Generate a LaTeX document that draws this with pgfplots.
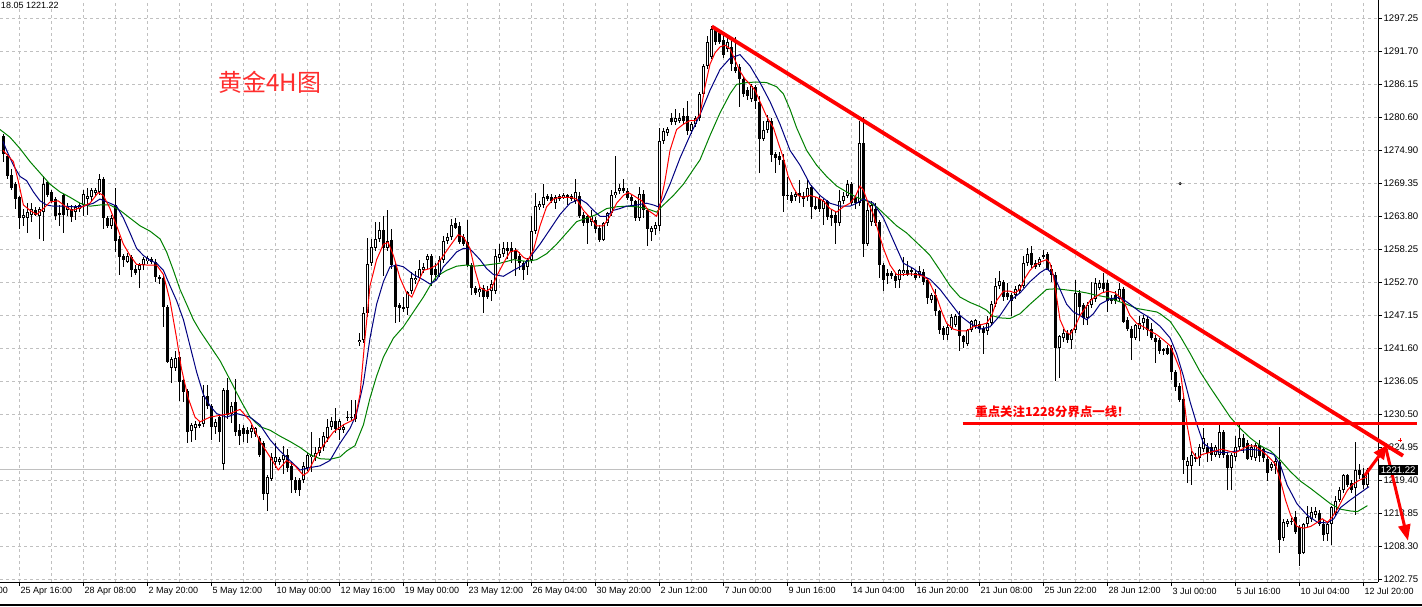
\documentclass[border=0pt]{standalone}
\usepackage{pgfplots}
\pgfplotsset{compat=1.18}
\usepackage{pgfplotstable}
\usepackage{fontspec}
\usetikzlibrary{arrows.meta}
\setmainfont{Liberation Sans}
\newfontfamily\cjk{Noto Sans CJK SC}
\definecolor{gridc}{RGB}{192,192,192}
\definecolor{ma1}{RGB}{255,0,0}
\definecolor{ma2}{RGB}{0,0,128}
\definecolor{ma3}{RGB}{0,128,0}
\definecolor{titlered}{RGB}{255,45,45}
\newcommand{\tfont}{\fontsize{4.5}{5}\selectfont}
\newcommand{\yfont}{\fontsize{4.8}{5.2}\selectfont}

\pgfplotstableread{
n o h l c
0 1277.5 1277.8 1273.1 1274.4
1 1274.0 1274.4 1270.2 1270.6
2 1270.9 1271.8 1268.3 1268.7
3 1269.3 1269.6 1265.2 1266.8
4 1267.1 1267.4 1261.7 1263.6
5 1263.6 1265.2 1262.3 1264.2
6 1263.7 1266.1 1261.1 1264.6
7 1264.2 1266.1 1263.0 1265.2
8 1264.9 1265.5 1263.9 1264.1
9 1264.0 1265.5 1260.1 1265.2
10 1264.6 1270.6 1259.8 1269.4
11 1269.6 1269.9 1267.1 1267.4
12 1268.0 1268.3 1266.1 1266.4
13 1266.8 1267.1 1263.3 1263.9
14 1264.2 1265.8 1262.3 1264.5
15 1267.4 1267.7 1261.1 1264.2
16 1264.9 1266.1 1263.9 1265.6
17 1265.2 1265.8 1263.0 1263.7
18 1264.6 1265.8 1263.3 1265.5
19 1265.2 1266.1 1264.6 1265.8
20 1265.8 1268.3 1263.9 1267.7
21 1266.8 1268.7 1264.1 1267.4
22 1267.1 1268.7 1266.5 1268.3
23 1267.9 1268.7 1267.4 1268.3
24 1268.0 1271.1 1267.5 1270.2
25 1270.2 1270.6 1261.7 1263.6
26 1263.6 1263.9 1262.0 1262.3
27 1262.3 1264.2 1261.8 1263.6
28 1265.8 1268.7 1257.9 1259.8
29 1260.1 1260.5 1254.1 1257.0
30 1257.3 1257.6 1255.4 1256.5
31 1256.3 1257.7 1256.0 1257.3
32 1257.0 1257.4 1253.6 1254.9
33 1255.1 1255.7 1254.1 1254.4
34 1254.9 1256.0 1251.8 1255.7
35 1255.7 1257.0 1254.8 1256.8
36 1256.3 1257.2 1255.9 1256.8
37 1256.7 1257.0 1255.9 1256.2
38 1256.2 1256.7 1252.9 1253.6
39 1253.6 1254.1 1252.5 1253.3
40 1253.5 1254.0 1245.3 1248.6
41 1248.7 1249.0 1239.2 1239.4
42 1238.3 1240.2 1235.8 1239.9
43 1238.3 1241.2 1237.8 1240.1
44 1240.2 1241.0 1232.9 1236.1
45 1236.3 1236.6 1232.6 1234.4
46 1234.5 1234.8 1225.7 1227.6
47 1227.7 1229.1 1226.0 1228.7
48 1228.2 1229.5 1226.3 1228.9
49 1228.7 1229.3 1228.2 1228.9
50 1228.9 1235.5 1228.5 1233.6
51 1233.7 1235.5 1231.4 1232.0
52 1232.0 1232.3 1226.3 1228.5
53 1228.5 1229.8 1227.2 1229.3
54 1230.1 1230.6 1226.0 1227.6
55 1222.2 1235.0 1221.2 1234.7
56 1234.7 1236.7 1229.8 1230.4
57 1230.7 1232.6 1229.1 1232.0
58 1232.6 1236.5 1227.0 1227.6
59 1228.0 1229.0 1225.4 1227.0
60 1228.2 1228.8 1226.0 1227.3
61 1227.9 1228.5 1225.7 1227.3
62 1227.6 1228.8 1226.6 1228.2
63 1227.2 1228.5 1226.8 1228.2
64 1226.6 1226.9 1223.4 1223.8
65 1225.7 1226.0 1216.2 1217.1
66 1217.1 1220.3 1214.3 1220.0
67 1219.7 1224.1 1219.3 1223.4
68 1222.5 1225.7 1221.5 1223.4
69 1222.5 1223.4 1222.0 1223.1
70 1222.8 1225.3 1220.6 1223.8
71 1223.8 1224.7 1220.9 1221.5
72 1221.9 1222.5 1217.4 1219.6
73 1219.6 1220.0 1217.4 1217.8
74 1219.5 1219.8 1216.9 1217.8
75 1219.6 1222.5 1219.0 1221.9
76 1221.6 1224.1 1221.0 1223.8
77 1223.4 1227.6 1220.9 1223.8
78 1223.4 1225.0 1222.8 1224.1
79 1224.1 1226.6 1223.5 1225.0
80 1225.0 1227.6 1224.4 1226.9
81 1226.6 1229.8 1226.0 1228.5
82 1228.5 1230.1 1227.9 1229.4
83 1229.4 1231.7 1227.5 1228.1
84 1228.0 1229.7 1226.3 1229.4
85 1227.9 1229.0 1227.5 1228.5
86 1230.2 1231.1 1229.5 1229.9
87 1230.2 1232.9 1229.6 1229.9
88 1229.8 1232.9 1229.2 1230.7
89 1242.7 1244.3 1242.1 1243.1
90 1243.1 1248.7 1242.6 1247.7
91 1247.7 1260.3 1247.0 1255.8
92 1256.0 1260.1 1255.5 1258.7
93 1258.5 1263.0 1258.0 1260.1
94 1260.1 1263.0 1259.5 1261.6
95 1261.6 1263.9 1253.8 1258.5
96 1258.5 1264.9 1258.0 1259.8
97 1259.9 1261.7 1255.1 1255.7
98 1255.7 1256.0 1245.9 1248.7
99 1248.9 1249.3 1246.2 1248.5
100 1248.4 1250.3 1247.8 1248.7
101 1248.5 1251.3 1247.3 1251.1
102 1251.3 1254.6 1250.8 1253.5
103 1253.2 1254.7 1252.5 1253.6
104 1253.5 1256.6 1253.0 1255.1
105 1254.9 1256.0 1254.3 1255.4
106 1256.6 1257.6 1255.0 1257.3
107 1257.2 1257.6 1252.2 1254.0
108 1255.1 1256.0 1253.2 1254.1
109 1254.1 1257.3 1253.6 1256.6
110 1256.6 1260.6 1256.0 1259.8
111 1259.8 1261.1 1259.2 1260.4
112 1260.4 1263.5 1259.9 1262.5
113 1262.7 1263.6 1261.7 1262.0
114 1262.3 1263.0 1259.2 1259.5
115 1260.4 1261.0 1258.9 1259.2
116 1259.5 1263.3 1255.4 1255.7
117 1255.7 1256.0 1250.6 1251.9
118 1251.9 1252.2 1250.6 1251.0
119 1251.1 1252.2 1250.3 1251.7
120 1251.9 1252.3 1247.7 1250.3
121 1251.3 1252.2 1250.0 1250.3
122 1251.3 1253.2 1249.7 1252.5
123 1251.3 1258.4 1250.9 1257.2
124 1256.9 1259.2 1256.3 1257.6
125 1257.6 1259.5 1257.0 1258.5
126 1258.5 1259.5 1256.7 1258.1
127 1258.5 1259.5 1256.0 1257.9
128 1258.2 1258.5 1253.8 1256.7
129 1257.3 1257.9 1254.8 1256.0
130 1256.0 1256.3 1253.2 1254.9
131 1255.3 1256.9 1254.0 1256.6
132 1256.6 1263.9 1256.0 1261.4
133 1261.4 1267.9 1261.0 1265.6
134 1265.5 1266.4 1265.0 1265.9
135 1265.8 1269.3 1265.3 1267.1
136 1267.3 1267.7 1266.4 1266.8
137 1267.1 1267.7 1266.2 1266.5
138 1266.1 1267.5 1265.2 1267.1
139 1266.8 1267.7 1266.4 1267.4
140 1267.1 1267.8 1266.8 1267.5
141 1267.5 1267.7 1265.8 1266.9
142 1266.8 1267.7 1266.4 1267.4
143 1266.4 1270.2 1266.0 1268.0
144 1267.4 1268.0 1263.6 1263.9
145 1264.2 1264.6 1262.3 1262.8
146 1263.9 1264.2 1259.2 1262.8
147 1262.9 1264.9 1262.3 1263.9
148 1263.3 1263.8 1261.1 1261.7
149 1262.0 1262.5 1259.5 1259.9
150 1259.9 1262.9 1259.7 1262.7
151 1262.7 1264.6 1262.3 1264.4
152 1264.4 1268.3 1264.0 1267.5
153 1267.4 1274.0 1266.9 1268.0
154 1268.2 1269.3 1267.7 1268.7
155 1268.7 1270.1 1267.9 1268.2
156 1268.2 1268.7 1266.6 1266.9
157 1267.1 1267.7 1265.8 1266.4
158 1266.4 1266.7 1263.1 1263.6
159 1263.7 1268.8 1263.2 1267.7
160 1267.7 1268.3 1263.6 1264.9
161 1264.9 1265.2 1258.9 1261.7
162 1261.2 1262.3 1259.8 1262.0
163 1261.8 1263.0 1260.8 1262.5
164 1262.3 1278.8 1261.4 1276.6
165 1276.6 1278.8 1276.0 1278.2
166 1278.0 1279.0 1277.5 1278.6
167 1280.4 1281.3 1279.2 1279.7
168 1279.7 1281.9 1279.2 1280.4
169 1280.0 1281.3 1279.6 1280.5
170 1280.7 1282.1 1279.5 1280.0
171 1280.7 1283.3 1277.5 1278.2
172 1278.2 1279.7 1277.8 1279.4
173 1279.4 1280.8 1279.0 1280.4
174 1280.4 1284.9 1280.0 1284.5
175 1284.5 1289.5 1284.0 1289.2
176 1289.2 1294.3 1288.7 1293.3
177 1290.8 1295.9 1290.3 1295.5
178 1295.2 1295.7 1292.8 1293.3
179 1294.7 1295.2 1292.9 1293.3
180 1293.6 1294.9 1290.6 1291.1
181 1292.1 1294.3 1291.5 1293.3
182 1292.4 1294.1 1288.3 1289.5
183 1289.1 1294.0 1288.0 1288.4
184 1289.0 1289.5 1282.3 1287.0
185 1287.0 1287.3 1284.0 1284.5
186 1285.1 1285.7 1283.5 1284.2
187 1283.6 1286.1 1283.2 1285.9
188 1285.7 1286.0 1282.0 1283.3
189 1283.2 1284.2 1271.2 1277.0
190 1277.0 1280.0 1276.5 1278.5
191 1278.5 1281.0 1278.0 1280.0
192 1280.0 1280.5 1273.0 1274.2
193 1274.4 1274.8 1271.2 1273.7
194 1274.0 1274.7 1272.5 1273.4
195 1273.4 1274.4 1264.6 1267.4
196 1267.5 1270.6 1266.6 1267.3
197 1267.5 1268.0 1266.1 1266.5
198 1267.2 1268.0 1266.5 1267.7
199 1267.9 1270.0 1266.1 1267.4
200 1267.4 1268.0 1265.5 1266.9
201 1267.1 1270.1 1266.5 1268.7
202 1268.8 1269.1 1263.5 1265.5
203 1265.6 1267.1 1264.9 1265.2
204 1266.8 1267.4 1264.6 1265.2
205 1265.2 1266.8 1262.5 1266.4
206 1266.4 1266.7 1263.3 1263.7
207 1264.2 1264.9 1262.3 1263.6
208 1264.2 1264.6 1259.2 1262.7
209 1262.7 1268.3 1262.2 1266.4
210 1266.4 1268.0 1266.0 1267.4
211 1267.4 1270.1 1267.0 1269.3
212 1269.4 1269.6 1265.8 1266.1
213 1266.9 1267.4 1265.2 1266.1
214 1266.1 1280.0 1265.6 1276.3
215 1276.3 1280.7 1257.0 1259.2
216 1259.2 1266.1 1258.9 1264.9
217 1263.0 1266.4 1262.3 1265.8
218 1265.2 1266.1 1262.3 1262.7
219 1262.9 1263.3 1253.5 1255.7
220 1255.7 1256.0 1251.3 1253.2
221 1254.3 1255.1 1252.5 1253.8
222 1254.3 1254.7 1253.4 1253.8
223 1253.8 1254.3 1251.9 1253.0
224 1253.2 1255.1 1251.9 1254.9
225 1254.3 1257.0 1253.8 1254.9
226 1254.9 1256.4 1253.8 1254.1
227 1254.6 1255.4 1253.8 1254.9
228 1254.3 1254.9 1253.2 1253.5
229 1254.1 1255.5 1253.5 1254.7
230 1254.5 1255.1 1252.3 1252.9
231 1253.2 1253.5 1249.1 1250.2
232 1249.8 1251.0 1249.3 1250.6
233 1250.6 1251.6 1247.2 1247.9
234 1247.9 1248.2 1244.1 1244.8
235 1245.1 1245.5 1243.1 1244.0
236 1244.0 1245.7 1243.1 1245.3
237 1245.1 1247.5 1244.8 1247.0
238 1245.6 1247.5 1245.2 1247.2
239 1247.2 1247.9 1241.2 1243.7
240 1243.7 1244.0 1241.8 1242.7
241 1242.4 1244.9 1242.1 1244.8
242 1244.8 1246.4 1244.4 1246.2
243 1245.4 1246.6 1245.0 1246.4
244 1245.8 1246.3 1244.3 1245.0
245 1245.1 1245.5 1240.8 1244.3
246 1244.6 1247.2 1244.0 1246.0
247 1246.0 1249.7 1245.5 1249.2
248 1249.2 1253.5 1248.7 1252.1
249 1252.1 1254.7 1251.6 1253.0
250 1252.9 1253.2 1249.7 1250.3
251 1251.0 1252.6 1249.9 1250.3
252 1250.6 1251.0 1247.2 1249.7
253 1250.6 1252.2 1250.0 1251.6
254 1251.3 1252.5 1250.9 1252.4
255 1252.2 1257.3 1251.8 1256.0
256 1256.0 1258.5 1255.5 1257.6
257 1257.8 1258.9 1255.2 1255.7
258 1256.0 1256.6 1255.1 1255.4
259 1255.7 1257.0 1255.3 1256.8
260 1257.2 1258.2 1256.8 1257.4
261 1257.6 1257.9 1254.8 1254.9
262 1255.1 1255.7 1252.9 1254.1
263 1254.1 1254.5 1236.1 1241.8
264 1241.8 1243.9 1236.7 1243.7
265 1243.4 1245.0 1242.7 1244.3
266 1244.3 1244.8 1242.6 1243.1
267 1243.1 1245.0 1241.5 1244.8
268 1244.8 1253.2 1244.3 1251.0
269 1251.0 1251.5 1247.0 1248.7
270 1248.9 1249.3 1245.6 1246.8
271 1246.8 1249.4 1245.6 1248.9
272 1248.9 1252.9 1248.4 1250.0
273 1250.0 1253.5 1249.5 1252.6
274 1251.9 1253.2 1251.5 1252.7
275 1252.6 1254.4 1251.0 1251.6
276 1252.7 1253.2 1247.8 1249.7
277 1250.0 1250.6 1249.2 1249.7
278 1250.6 1251.3 1249.1 1249.7
279 1250.0 1252.6 1249.5 1251.6
280 1251.6 1252.0 1245.9 1246.2
281 1246.5 1246.9 1244.6 1245.0
282 1245.0 1245.4 1239.7 1243.4
283 1243.4 1245.8 1243.0 1245.6
284 1245.0 1247.2 1242.9 1245.9
285 1245.9 1247.3 1244.8 1246.8
286 1246.7 1247.2 1243.7 1244.8
287 1244.9 1245.9 1243.1 1243.4
288 1243.5 1244.0 1239.3 1242.7
289 1243.0 1243.4 1240.8 1241.2
290 1241.2 1241.8 1240.6 1241.5
291 1241.8 1242.3 1240.5 1240.8
292 1241.8 1242.2 1236.4 1237.7
293 1237.7 1238.0 1234.5 1235.1
294 1235.4 1235.8 1232.6 1232.9
295 1233.2 1233.6 1220.6 1222.8
296 1221.9 1223.4 1219.0 1222.8
297 1221.9 1224.4 1218.7 1223.8
298 1223.2 1224.0 1222.6 1223.4
299 1223.2 1225.5 1221.9 1225.0
300 1224.7 1228.2 1224.2 1226.6
301 1225.1 1225.7 1222.5 1224.1
302 1225.0 1225.7 1222.8 1223.8
303 1223.8 1225.5 1223.4 1225.0
304 1223.8 1228.9 1223.3 1227.6
305 1227.6 1228.0 1223.3 1223.8
306 1223.8 1224.3 1217.8 1221.6
307 1221.6 1224.0 1217.8 1223.8
308 1223.4 1226.9 1222.8 1225.0
309 1225.0 1228.9 1224.5 1226.6
310 1226.6 1227.2 1224.1 1225.0
311 1225.7 1226.3 1222.8 1223.0
312 1223.4 1225.5 1222.9 1225.0
313 1223.2 1225.8 1222.8 1225.4
314 1225.4 1226.3 1222.5 1223.5
315 1224.7 1225.0 1222.6 1223.2
316 1223.1 1223.5 1219.3 1220.7
317 1221.5 1222.5 1221.0 1222.2
318 1221.9 1223.4 1220.6 1222.8
319 1222.6 1228.5 1207.3 1209.5
320 1209.8 1212.9 1209.3 1212.4
321 1212.1 1213.0 1211.6 1212.7
322 1212.4 1213.1 1212.0 1212.7
323 1213.3 1214.3 1210.5 1210.8
324 1211.7 1212.0 1205.1 1207.0
325 1207.3 1212.3 1207.0 1212.1
326 1212.1 1215.2 1211.7 1213.3
327 1212.9 1214.9 1212.5 1214.2
328 1213.6 1214.9 1213.2 1214.3
329 1214.0 1214.4 1211.8 1212.1
330 1212.1 1213.0 1209.2 1210.2
331 1210.5 1212.4 1209.2 1212.1
332 1212.1 1215.2 1208.6 1214.9
333 1214.0 1216.8 1213.5 1216.0
334 1216.2 1218.4 1215.8 1217.9
335 1217.8 1220.6 1217.3 1220.3
336 1220.3 1220.6 1218.4 1218.7
337 1219.0 1219.5 1217.4 1217.8
338 1218.1 1226.0 1213.6 1221.2
339 1221.2 1222.2 1219.7 1220.3
340 1220.6 1221.6 1218.0 1218.7
341 1218.7 1221.6 1218.2 1221.2
}\candles

\begin{document}
\begin{tikzpicture}
\begin{axis}[
  at={(0pt,0pt)}, anchor=south west,
  scale only axis, width=689pt, height=291pt,
  xmin=-0.75, xmax=343.75, ymin=1202.35, ymax=1300.30,
  clip=false,
  axis x line*=bottom, axis y line*=right,
  axis line style={black, line width=0.5pt},
  xtick={4,20,...,340},
  xticklabels={25 Apr 16:00,28 Apr 08:00,2 May 20:00,5 May 12:00,10 May 00:00,12 May 16:00,19 May 00:00,23 May 12:00,26 May 04:00,30 May 20:00,2 Jun 12:00,7 Jun 00:00,9 Jun 16:00,14 Jun 04:00,16 Jun 20:00,21 Jun 08:00,25 Jun 22:00,28 Jun 12:00,3 Jul 00:00,5 Jul 16:00,10 Jul 04:00,12 Jul 20:00},
  minor xtick={12,28,...,332},
  ytick={1202.75,1208.309,1213.868,1219.426,1224.985,1230.544,1236.103,1241.662,1247.220,1252.779,1258.338,1263.897,1269.456,1275.014,1280.573,1286.132,1291.691,1297.25},
  yticklabels={1202.75,1208.30,1213.85,1219.40,1224.95,1230.50,1236.05,1241.60,1247.15,1252.70,1258.25,1263.80,1269.35,1274.90,1280.60,1286.15,1291.70,1297.25},
  grid=both,
  major grid style={draw=gridc, dash pattern=on 1.5pt off 1.5pt, line width=0.5pt},
  minor grid style={draw=gridc, dash pattern=on 1.5pt off 1.5pt, line width=0.5pt},
  tick align=outside,
  major tick length=2pt, minor tick length=0pt,
  tick style={black, line width=0.5pt},
  xticklabel style={anchor=north west, inner sep=0pt, xshift=0.6pt, yshift=-0.6pt, font=\tfont},
  yticklabel style={anchor=west, inner sep=0pt, xshift=0.6pt, font=\yfont},
]
% current price line
\addplot[gridc, line width=0.5pt, forget plot] coordinates {(-0.75,1221.22) (343.75,1221.22)};
% wicks
\addplot[draw=none, mark=none, mark size=0pt, forget plot, error bars/.cd, y dir=both, y explicit, error mark=none,
  error bar style={draw=black, line width=0.5pt, solid}]
  table[x=n, y expr={(\thisrow{h}+\thisrow{l})/2}, y error expr={(\thisrow{h}-\thisrow{l})/2}] {\candles};
% bodies
\addplot[draw=none, mark=none, mark size=0pt, forget plot, error bars/.cd, y dir=both, y explicit, error mark=none,
  error bar style={draw=black, line width=1.5pt, solid}]
  table[x=n, y expr={(\thisrow{o}+\thisrow{c})/2}, y error expr={max(abs(\thisrow{c}-\thisrow{o})/2,0.085)}] {\candles};
% bull interiors
\addplot[draw=none, mark=none, mark size=0pt, forget plot, error bars/.cd, y dir=both, y explicit, error mark=none,
  error bar style={draw=white, line width=0.5pt, solid}]
  table[x=n, y expr={(\thisrow{o}+\thisrow{c})/2}, y error expr={max((\thisrow{c}-\thisrow{o})/2-0.168,0)}] {\candles};

% green MA
\addplot[ma3, line width=0.5pt] coordinates {
(-0.75,1278.5) (1.75,1277.2) (4.25,1275.3) (6.75,1273.1) (9.25,1271.2) (11.75,1269.3) (14.25,1268.0) (16.75,1267.1) (19.25,1266.1) (21.75,1265.6) (24.25,1265.8) (26.75,1265.8) (29.25,1264.9) (31.75,1263.6) (34.25,1262.3) (36.75,1261.4) (39.25,1260.1) (40.9,1257.9) (42.6,1254.8) (44.25,1251.6) (45.9,1249.1) (47.6,1246.5) (49.25,1244.6) (51.75,1242.1) (54.25,1239.6) (56.75,1236.4) (59.25,1233.1) (61.75,1230.1) (64.25,1228.5) (66.75,1227.9) (69.25,1226.9) (71.75,1226.0) (74.25,1225.0) (76.75,1223.8) (79.25,1223.1) (81.75,1223.0) (84.25,1223.4) (85.9,1224.4) (88,1225.3) (90.1,1228.8) (91.75,1233.3) (93.4,1237.0) (95.1,1240.2) (97.6,1243.4) (100.1,1245.3) (102.6,1247.8) (105.1,1250.3) (106.75,1252.2) (108.4,1253.8) (110.9,1254.8) (113.4,1255.5) (115.9,1255.7) (117.6,1255.5) (120.9,1255.7) (124.25,1256.0) (127.6,1256.6) (130.9,1256.3) (133.4,1256.6) (135.9,1257.6) (138.4,1259.2) (140.9,1261.1) (143.4,1263.0) (145.9,1263.6) (148.4,1264.2) (150.9,1265.2) (153.4,1265.5) (155.9,1265.6) (158.4,1265.5) (160.9,1265.2) (163.4,1264.6) (165.1,1265.8) (167.6,1267.4) (170.1,1269.3) (172.6,1271.8) (174.25,1273.4) (176.75,1277.5) (179.25,1281.3) (181.75,1284.5) (183.4,1286.1) (185.9,1286.4) (188.4,1286.5) (190.9,1286.4) (193.4,1285.7) (195.1,1284.5) (196.75,1281.9) (198.4,1278.8) (200.9,1275.0) (203.4,1272.5) (205.9,1270.6) (208.4,1269.0) (210.9,1268.0) (213.4,1267.1) (215.9,1266.5) (218.4,1265.5) (220.9,1263.9) (223.4,1262.3) (225.9,1261.1) (228.4,1259.5) (230.9,1257.9) (231.75,1257.3) (234.25,1254.8) (236.75,1252.2) (239.25,1250.3) (241.75,1249.4) (244.25,1248.7) (245.9,1248.1) (247.2,1247.2) (249.25,1246.8) (251.75,1246.7) (254.25,1247.5) (256.75,1249.1) (259.25,1250.6) (260.9,1251.6) (263.4,1251.7) (265.9,1251.5) (268.4,1251.3) (270.9,1251.0) (273.4,1250.6) (275.9,1250.3) (278.4,1249.7) (280.9,1249.1) (283.4,1248.4) (285.9,1248.1) (288.4,1247.8) (289.25,1247.5) (291.8,1246.2) (294.3,1243.7) (296.8,1240.8) (299.3,1237.7) (301.8,1235.1) (304.3,1232.6) (306.8,1230.1) (309.3,1228.2) (311.8,1226.6) (314.3,1225.3) (316.9,1224.4) (319.4,1222.8) (321.9,1220.9) (324.4,1219.3) (326.9,1218.1) (329.4,1216.8) (331.9,1215.5) (334.4,1214.6) (336.9,1214.3) (338.6,1214.2) (341.1,1215.2)
};
% blue MA
\addplot[ma2, line width=0.5pt] coordinates {
(0,1276.5) (0.9,1275.0) (2.6,1272.5) (4.25,1270.6) (5.9,1269.9) (7.6,1268.0) (9.25,1266.5) (10.9,1265.8) (12.6,1265.6) (15.1,1265.6) (17.6,1265.5) (20.1,1265.6) (22.6,1266.1) (24.25,1266.8) (26.75,1266.1) (28.4,1265.6) (30.1,1263.6) (31.75,1261.1) (33.4,1258.5) (35.1,1257.3) (36.75,1256.5) (38.4,1256.0) (40.1,1254.8) (41.75,1252.2) (43.4,1249.7) (45.1,1246.5) (46.75,1242.1) (48.4,1237.7) (50.1,1233.9) (51.75,1232.0) (53.4,1230.7) (55.9,1230.1) (58.4,1230.7) (61.75,1230.1) (64.25,1228.8) (66.75,1226.3) (69.25,1224.4) (71.75,1222.8) (74.25,1221.2) (76.75,1221.6) (79.25,1221.9) (81.75,1222.8) (84.25,1225.7) (86.75,1228.2) (88.4,1230.7) (90.1,1235.8) (91.75,1243.4) (93.4,1249.1) (95.1,1252.9) (96.75,1255.4) (98.4,1255.7) (100.1,1255.4) (102.6,1254.1) (105.1,1253.2) (106.75,1252.5) (108.4,1253.2) (110.1,1255.4) (111.75,1256.6) (113.4,1257.9) (115.1,1258.5) (116.75,1258.4) (119.25,1256.6) (120.9,1255.1) (122.6,1254.1) (125.1,1253.8) (127.6,1254.8) (130.1,1255.7) (131.75,1257.0) (134.25,1259.2) (136.75,1261.7) (139.25,1264.2) (141.75,1266.1) (144.25,1266.8) (145.9,1266.1) (147.6,1264.9) (149.25,1263.9) (150.9,1263.9) (152.6,1264.9) (154.25,1265.2) (155.9,1265.6) (158.4,1265.8) (160.9,1266.1) (162.6,1265.8) (163.8,1265.5) (165.1,1266.8) (166.75,1269.3) (169.25,1273.7) (171.75,1277.5) (174.25,1281.0) (176.75,1285.1) (179.25,1288.6) (181.75,1290.5) (184.25,1291.1) (186.75,1289.2) (189.25,1286.4) (191.75,1283.2) (194.25,1279.4) (196.75,1275.0) (199.25,1272.5) (201.75,1269.3) (204.25,1267.4) (206.75,1266.1) (209.25,1265.6) (211.75,1265.6) (213.4,1266.1) (215.1,1266.8) (217.6,1266.1) (220.1,1263.6) (222.6,1259.8) (225.1,1256.0) (227.6,1255.1) (230.1,1253.8) (231.75,1253.3) (234.25,1251.6) (236.75,1249.4) (239.25,1247.2) (241.75,1245.9) (244.25,1244.9) (246.75,1245.3) (249.25,1247.2) (251.75,1249.7) (254.25,1251.0) (256.75,1252.9) (259.25,1254.4) (260.9,1255.1) (262.6,1254.1) (264.25,1251.6) (265.9,1249.1) (267.6,1247.8) (269.25,1247.2) (270.9,1246.5) (272.6,1247.5) (274.25,1249.1) (276.75,1250.0) (279.25,1250.3) (281.75,1249.1) (284.25,1247.8) (286.75,1246.8) (289.25,1245.4) (291.8,1243.4) (293.4,1240.8) (295.1,1237.0) (296.8,1232.6) (298.5,1228.8) (300.1,1225.7) (302.6,1224.4) (305.1,1224.1) (308.5,1224.4) (311.8,1224.7) (315.2,1224.4) (317.7,1223.8) (319.4,1221.9) (321,1218.7) (323.5,1215.5) (326.05,1213.6) (328.6,1212.4) (331.1,1212.3) (332.7,1213.0) (334.4,1214.9) (336.9,1216.2) (339.4,1217.4) (341.5,1218.4)
};
% red MA
\addplot[ma1, line width=0.5pt] coordinates {
(0,1275.0) (2.6,1273.1) (3.8,1269.9) (5.1,1265.8) (6.75,1264.9) (8.4,1264.2) (10.1,1265.2) (11.75,1266.3) (13.8,1266.5) (15.5,1265.6) (17.2,1264.9) (19.25,1265.3) (21.75,1266.1) (23.8,1267.9) (25.1,1267.4) (26.75,1265.2) (28.4,1262.3) (30.1,1259.2) (31.75,1257.3) (33.4,1255.8) (35.9,1255.7) (38.4,1255.7) (40.1,1254.1) (41.75,1249.7) (43.4,1243.4) (44.6,1238.3) (46.3,1233.3) (48,1230.1) (49.25,1229.3) (51.75,1230.1) (54.25,1230.4) (56.75,1230.7) (59.25,1231.4) (61.75,1229.5) (64.25,1226.0) (66.75,1223.4) (68.8,1221.2) (70.9,1222.8) (73,1221.9) (75.1,1220.3) (76.3,1220.9) (78.4,1223.8) (80.5,1225.7) (82.6,1227.6) (85.1,1228.8) (88,1229.8) (89.25,1233.9) (90.5,1243.4) (91.75,1252.2) (93.4,1256.6) (95.1,1259.2) (96.3,1259.5) (97.6,1257.3) (99.25,1253.5) (100.9,1251.0) (102.2,1250.3) (103.4,1252.2) (105.1,1254.8) (106.75,1255.1) (108.4,1255.7) (110.1,1257.3) (111.75,1258.9) (113.8,1260.8) (115.1,1260.4) (116.75,1258.5) (118,1254.8) (119.25,1251.9) (120.9,1251.3) (122.2,1251.9) (123.4,1253.8) (125.1,1256.0) (126.75,1257.9) (128.4,1258.2) (130.1,1257.0) (131.3,1256.6) (132.6,1258.2) (134.25,1262.3) (135.9,1265.5) (137.6,1266.8) (139.25,1267.1) (141.75,1267.1) (143.4,1266.8) (145.1,1264.9) (146.75,1263.7) (148.4,1262.3) (150.1,1262.3) (151.75,1263.9) (153.4,1266.1) (155.1,1267.4) (156.3,1267.9) (157.6,1267.4) (159.7,1266.5) (161.3,1264.9) (163.4,1263.9) (164.25,1265.8) (165.5,1269.9) (166.75,1275.0) (168.4,1278.5) (170.1,1279.4) (171.75,1280.0) (173,1280.0) (174.25,1281.0) (175.5,1285.7) (176.75,1289.5) (178,1291.4) (179.25,1292.4) (180.5,1292.7) (181.75,1292.1) (183,1290.2) (184.25,1288.3) (185.5,1287.0) (186.75,1286.1) (188,1285.1) (189.25,1283.2) (190.9,1280.7) (192.6,1278.8) (193.8,1276.3) (195.1,1273.7) (196.3,1270.6) (197.6,1268.7) (198.8,1267.4) (200.1,1267.1) (201.75,1267.4) (203.4,1267.1) (205.1,1266.5) (206.75,1265.2) (208.4,1264.6) (210.1,1265.5) (211.75,1266.1) (213,1267.1) (214.25,1269.0) (215.1,1268.3) (216.3,1266.1) (217.6,1264.2) (218.8,1261.4) (220.1,1258.5) (221.75,1255.7) (223.4,1254.1) (225.1,1254.1) (226.75,1254.2) (228.4,1254.1) (230.1,1253.8) (231.3,1253.2) (233.4,1250.3) (234.7,1247.8) (235.9,1245.9) (237.6,1244.9) (239.25,1244.6) (240.9,1244.6) (242.6,1245.3) (244.25,1245.6) (245.9,1245.9) (247.2,1247.2) (248.4,1249.7) (250.1,1251.3) (251.75,1251.3) (253,1251.0) (254.25,1251.6) (255.5,1253.5) (256.75,1254.8) (258,1255.7) (259.7,1256.3) (260.9,1256.6) (261.75,1256.0) (262.6,1253.8) (263.4,1250.3) (264.25,1246.5) (265.5,1244.6) (266.75,1244.0) (268,1245.3) (269.25,1247.2) (270.5,1248.4) (271.75,1249.7) (273,1250.3) (274.7,1251.0) (276.3,1251.3) (278,1251.0) (279.25,1250.3) (280.5,1249.1) (281.75,1247.2) (283.4,1245.9) (285.1,1245.3) (286.75,1244.6) (288.4,1244.0) (290.1,1243.1) (291.8,1242.1) (293,1240.2) (294.3,1238.0) (295.1,1233.9) (296,1228.8) (297.2,1224.4) (298.5,1223.1) (299.7,1223.8) (301.4,1224.1) (303,1224.4) (304.7,1224.7) (306.4,1224.4) (308.1,1224.1) (309.75,1224.7) (311.4,1225.3) (313.1,1225.2) (314.75,1224.4) (316.4,1223.4) (318.1,1222.2) (319.4,1219.3) (320.6,1216.2) (321.9,1213.6) (323.5,1211.7) (325.2,1211.4) (326.9,1211.7) (328.6,1212.4) (329.8,1213.0) (331.1,1212.4) (332.3,1213.3) (333.6,1214.6) (334.8,1216.2) (336.1,1217.8) (337.3,1218.7) (338.6,1219.3) (339.8,1219.7) (341,1220.0)
};
% small objects
\addplot[only marks, mark=o, mark size=0.6pt, black, line width=0.3pt] coordinates {(294.25,1269.4)};
\addplot[only marks, mark=+, mark size=1pt, red, line width=0.4pt] coordinates {(349.25,1226.2)};
% trend line and support line
\addplot[red, line width=1.9pt] coordinates {(177.2,1295.85) (350,1223.6)};
\addplot[red, line width=1.5pt] coordinates {(239.9,1229.0) (353.4,1229.0)};
% arrows
\addplot[red, line width=1.5pt, -{Triangle[length=7pt,width=6pt]}] coordinates {(340.4,1220.25) (346.0,1225.4)};
\addplot[red, line width=1.5pt, -{Triangle[length=8pt,width=6pt]}] coordinates {(345.6,1225.2) (351.25,1209.3)};
% texts
\node[anchor=west, inner sep=0pt, text=titlered, font=\cjk\fontsize{12}{13}\selectfont] at (axis cs:53.75,1286.5) {黄金4H图};
\node[anchor=west, inner sep=0pt, text=red, font=\cjk\bfseries\fontsize{6.2}{7}\selectfont] at (axis cs:243,1231.0) {重点关注1228分界点一线！};
\node[anchor=west, fill=black, text=white, inner xsep=1.2pt, inner ysep=0.8pt, font=\yfont] at (axis cs:343.75,1221.22) {1221.22};
\end{axis}
\node[anchor=north west, inner sep=0pt, font=\tfont] at (0.3pt,290.3pt) {18.05 1221.22};
\node[anchor=north east, inner sep=0pt, font=\tfont] at (4.2pt,-2.6pt) {21 Apr 00:00};
\fill[black] (0pt,-12pt) rectangle (711pt,-10.8pt);
\pgfresetboundingbox
\path[use as bounding box] (0pt,-12pt) rectangle (711pt,291pt);
\end{tikzpicture}
\end{document}
